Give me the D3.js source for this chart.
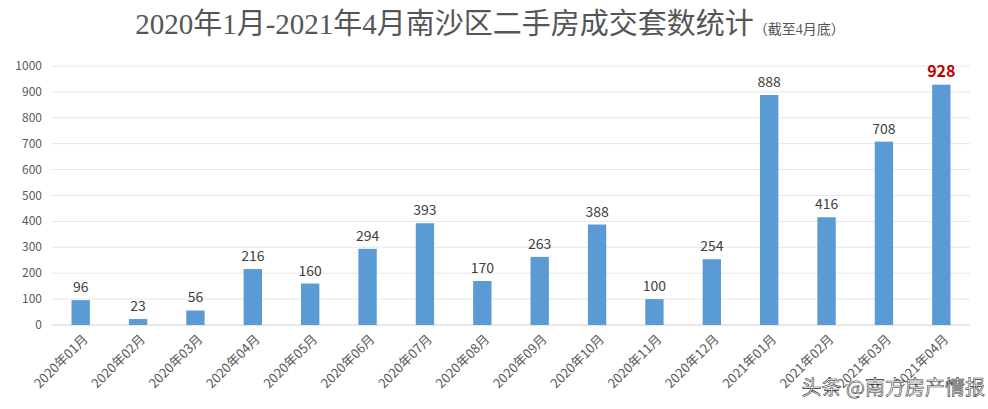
<!DOCTYPE html>
<html><head><meta charset="utf-8">
<script src="https://cdn.jsdelivr.net/npm/d3@7"></script>
<style>body{margin:0;background:#fff}</style></head>
<body><svg id="c" width="988" height="409"></svg>
<script>
const categories=["2020年01月","2020年02月","2020年03月","2020年04月","2020年05月","2020年06月","2020年07月","2020年08月","2020年09月","2020年10月","2020年11月","2020年12月","2021年01月","2021年02月","2021年03月","2021年04月"];
const values=[96,23,56,216,160,294,393,170,263,388,100,254,888,416,708,928];
const yTicks=[0,100,200,300,400,500,600,700,800,900,1000];
const svg=d3.select("#c");
const x=d3.scaleBand().domain(categories).range([52,970]).paddingInner(0.68).paddingOuter(0.34);
const y=d3.scaleLinear().domain([0,1000]).range([325,66]);
const f="'Microsoft YaHei','Noto Sans CJK SC',sans-serif";
svg.append("g").selectAll("line").data(yTicks.slice(1)).join("line")
 .attr("x1",52).attr("x2",970).attr("y1",d=>y(d)).attr("y2",d=>y(d)).attr("stroke","#e6e6e6");
svg.append("line").attr("x1",52).attr("x2",970).attr("y1",y(0)).attr("y2",y(0)).attr("stroke","#d0d0d0");
svg.append("g").selectAll("text").data(yTicks).join("text")
 .attr("x",42).attr("y",d=>y(d)+4).attr("text-anchor","end").attr("font-size",12).attr("font-family",f).attr("fill","#595959").text(d=>d);
svg.append("g").selectAll("rect").data(values).join("rect")
 .attr("x",(d,i)=>x(categories[i])).attr("width",x.bandwidth()).attr("y",d=>y(d)).attr("height",d=>y(0)-y(d)).attr("fill","#5b9bd5");
svg.append("g").selectAll("text").data(values).join("text")
 .attr("x",(d,i)=>x(categories[i])+x.bandwidth()/2).attr("y",d=>y(d)-8).attr("text-anchor","middle")
 .attr("font-family",f).attr("font-size",(d,i)=>i===15?16:14).attr("font-weight",(d,i)=>i===15?"bold":"normal")
 .attr("fill",(d,i)=>i===15?"#c00000":"#404040").text(d=>d);
svg.append("g").selectAll("text").data(categories).join("text")
 .attr("transform",d=>`translate(${x(d)+x.bandwidth()/2+8},${340}) rotate(-45)`)
 .attr("text-anchor","end").attr("font-size",13).attr("font-family",f).attr("fill","#595959").text(d=>d);
const t=svg.append("text").attr("x",490).attr("y",34).attr("text-anchor","middle").attr("fill","#555").attr("font-family","'Liberation Serif','Noto Sans CJK SC',serif");
t.append("tspan").attr("font-size",29).text("2020年1月-2021年4月南沙区二手房成交套数统计");
t.append("tspan").attr("font-size",14).text("（截至4月底）");
svg.append("text").attr("x",985).attr("y",395).attr("text-anchor","end").attr("font-size",20).attr("font-family",f).attr("fill","#fff").attr("stroke","#333").attr("stroke-width",0.6).text("头条 @南方房产情报");
</script></body></html>
